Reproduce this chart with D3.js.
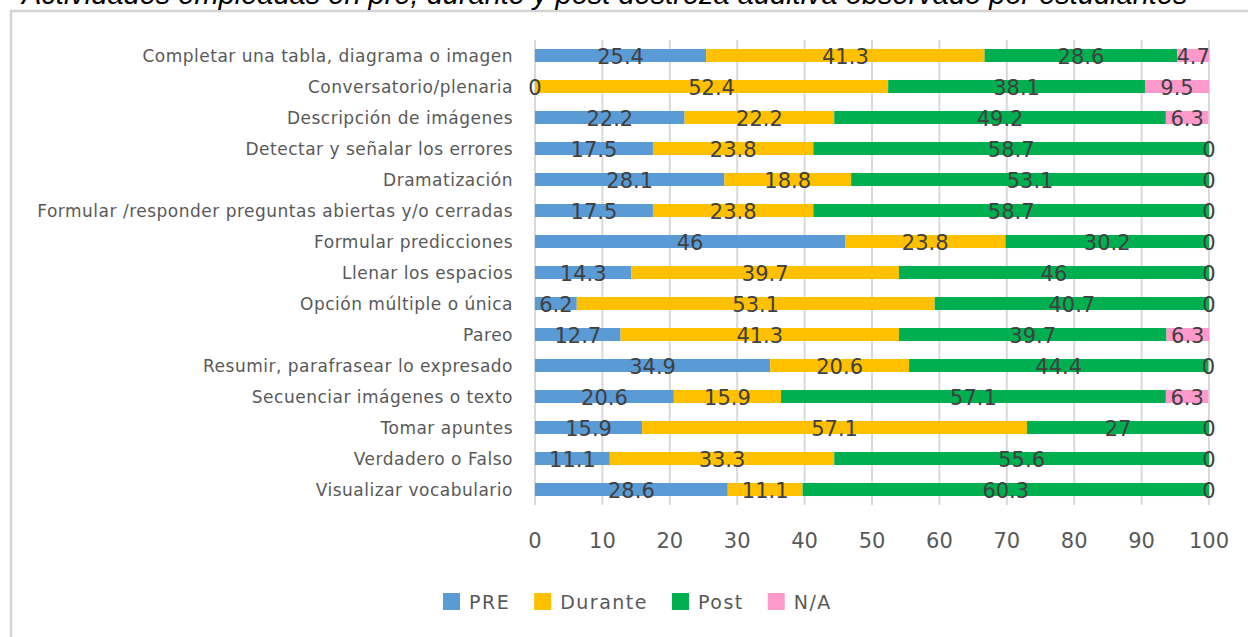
<!DOCTYPE html>
<html>
<head>
<meta charset="utf-8">
<script src="https://cdn.jsdelivr.net/npm/d3@7"></script>
<style>
  body { margin: 0; background: #fff; }
  svg { display: block; }
</style>
</head>
<body>
<svg id="chart"></svg>
<script>
const TITLE = 'Actividades empleadas en pre, durante y post destreza auditiva observado por estudiantes';

const categories = [
    'Completar una tabla, diagrama o imagen',
    'Conversatorio/plenaria',
    'Descripción de imágenes',
    'Detectar y señalar los errores',
    'Dramatización',
    'Formular /responder preguntas abiertas y/o cerradas',
    'Formular predicciones',
    'Llenar los espacios',
    'Opción múltiple o única',
    'Pareo',
    'Resumir, parafrasear lo expresado',
    'Secuenciar imágenes o texto',
    'Tomar apuntes',
    'Verdadero o Falso',
    'Visualizar vocabulario'
];

const seriesNames = ['PRE', 'Durante', 'Post', 'N/A'];
const seriesColors = ['#5b9bd5', '#ffc000', '#00b050', '#ff99cc'];

const preValues     = [25.4, 0, 22.2, 17.5, 28.1, 17.5, 46, 14.3, 6.2, 12.7, 34.9, 20.6, 15.9, 11.1, 28.6];
const duranteValues = [41.3, 52.4, 22.2, 23.8, 18.8, 23.8, 23.8, 39.7, 53.1, 41.3, 20.6, 15.9, 57.1, 33.3, 11.1];
const postValues    = [28.6, 38.1, 49.2, 58.7, 53.1, 58.7, 30.2, 46, 40.7, 39.7, 44.4, 57.1, 27, 55.6, 60.3];
const naValues      = [4.7, 9.5, 6.3, 0, 0, 0, 0, 0, 0, 6.3, 0, 6.3, 0, 0, 0];

const xTicks = [0, 10, 20, 30, 40, 50, 60, 70, 80, 90, 100];

const width = 1248;
const height = 637;
const labelFont = "'DejaVu Sans', Verdana, sans-serif";

// tabla para d3.stack
const rows = categories.map((c, i) => ({
    categoria: c,
    'PRE': preValues[i],
    'Durante': duranteValues[i],
    'Post': postValues[i],
    'N/A': naValues[i]
}));

const svg = d3.select('#chart')
    .attr('width', width)
    .attr('height', height);

svg.append('rect')
    .attr('width', width)
    .attr('height', height)
    .attr('fill', '#fff');

// marco del gráfico (sale por la derecha y abajo)
svg.append('rect')
    .attr('x', 11)
    .attr('y', 11)
    .attr('width', 1400)
    .attr('height', 800)
    .attr('fill', 'none')
    .attr('stroke', '#d4d4d4')
    .attr('stroke-width', 2.5);

// título, cortado arriba como en la imagen original
svg.append('text')
    .attr('x', 22)
    .attr('y', 4)
    .text(TITLE)
    .style('font-family', "'Liberation Sans', Arial, sans-serif")
    .style('font-style', 'italic')
    .style('font-size', '29px')
    .style('fill', '#000');

const x = d3.scaleLinear().domain([0, 100]).range([535, 1209]);
const y = d3.scaleBand().domain(categories).range([40, 505]).paddingInner(0.58).paddingOuter(0.29);

// líneas de cuadrícula
svg.append('g')
    .selectAll('line')
    .data(xTicks)
    .enter().append('line')
    .attr('x1', d => x(d))
    .attr('x2', d => x(d))
    .attr('y1', 40)
    .attr('y2', 505)
    .attr('stroke', '#d9d9d9')
    .attr('stroke-width', 2);

// etiquetas del eje x
svg.append('g')
    .selectAll('text')
    .data(xTicks)
    .enter().append('text')
    .attr('x', d => x(d))
    .attr('y', 548)
    .attr('text-anchor', 'middle')
    .text(d => d)
    .style('font-family', labelFont)
    .style('font-size', '21px')
    .style('fill', '#595959');

// etiquetas de categorías
svg.append('g')
    .selectAll('text')
    .data(categories)
    .enter().append('text')
    .attr('x', 513)
    .attr('y', d => y(d) + y.bandwidth() / 2 + 6)
    .attr('text-anchor', 'end')
    .text(d => d)
    .style('font-family', labelFont)
    .style('font-size', '17px')
    .style('letter-spacing', '0.5px')
    .style('fill', '#595959');

const stack = d3.stack().keys(seriesNames);
const stacked = stack(rows);
const color = d3.scaleOrdinal().domain(seriesNames).range(seriesColors);

const layers = svg.append('g')
    .selectAll('g')
    .data(stacked)
    .enter().append('g')
    .attr('fill', d => color(d.key));

layers.selectAll('rect')
    .data(d => d)
    .enter().append('rect')
    .attr('x', d => x(d[0]))
    .attr('y', d => y(d.data.categoria))
    .attr('width', d => x(d[1]) - x(d[0]))
    .attr('height', y.bandwidth());

// etiquetas de datos
const labels = svg.append('g')
    .selectAll('g')
    .data(stacked)
    .enter().append('g');

labels.selectAll('text')
    .data(d => d.map(p => ({ p, key: d.key })))
    .enter().append('text')
    .attr('x', d => x((d.p[0] + d.p[1]) / 2))
    .attr('y', d => y(d.p.data.categoria) + y.bandwidth() / 2 + 8)
    .attr('text-anchor', 'middle')
    .text(d => d.p.data[d.key])
    .style('font-family', labelFont)
    .style('font-size', '21px')
    .style('fill', '#404040');

// leyenda
const legend = svg.append('g').attr('class', 'legend');
let lx = 443;
seriesNames.forEach((name, i) => {
    const item = legend.append('g').attr('transform', `translate(${lx}, 0)`);
    item.append('rect')
        .attr('x', 0)
        .attr('y', 593)
        .attr('width', 17)
        .attr('height', 17)
        .attr('fill', color(name));
    const t = item.append('text')
        .attr('x', 26)
        .attr('y', 609)
        .text(name)
        .style('font-family', labelFont)
        .style('font-size', '19px')
        .style('letter-spacing', '1.5px')
        .style('fill', '#595959');
    lx += 26 + t.node().getComputedTextLength() + 24;
});
</script>
</body>
</html>
